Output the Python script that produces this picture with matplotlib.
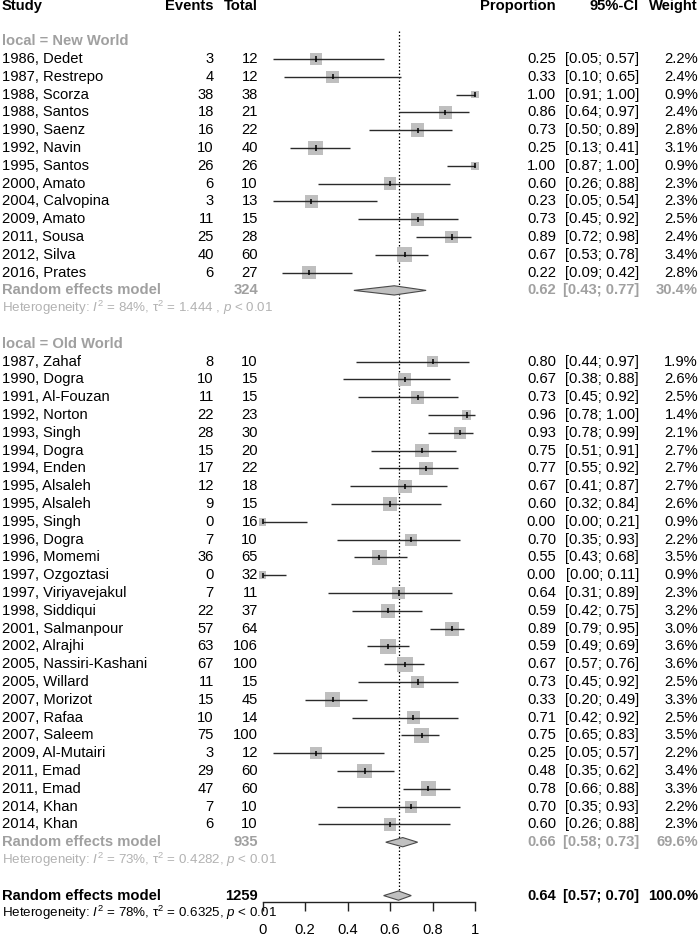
import matplotlib
matplotlib.use("Agg")
import matplotlib.pyplot as plt
from matplotlib.patches import Polygon
from matplotlib.transforms import blended_transform_factory

plt.rcParams['font.family'] = ['Liberation Sans', 'DejaVu Sans']
plt.rcParams['mathtext.fontset'] = 'custom'
plt.rcParams['mathtext.rm'] = 'Liberation Sans'
plt.rcParams['mathtext.it'] = 'Liberation Sans:italic'
plt.rcParams['mathtext.bf'] = 'Liberation Sans:bold'

# ---------------- data ----------------
nw_study = ["1986, Dedet", "1987, Restrepo", "1988, Scorza", "1988, Santos", "1990, Saenz",
            "1992, Navin", "1995, Santos", "2000, Amato", "2004, Calvopina", "2009, Amato",
            "2011, Sousa", "2012, Silva", "2016, Prates"]
nw_events = [3, 4, 38, 18, 16, 10, 26, 6, 3, 11, 25, 40, 6]
nw_total = [12, 12, 38, 21, 22, 40, 26, 10, 13, 15, 28, 60, 27]
nw_prop = [0.25, 0.33, 1.00, 0.86, 0.73, 0.25, 1.00, 0.60, 0.23, 0.73, 0.89, 0.67, 0.22]
nw_lo = [0.05, 0.10, 0.91, 0.64, 0.50, 0.13, 0.87, 0.26, 0.05, 0.45, 0.72, 0.53, 0.09]
nw_hi = [0.57, 0.65, 1.00, 0.97, 0.89, 0.41, 1.00, 0.88, 0.54, 0.92, 0.98, 0.78, 0.42]
nw_weight = [2.2, 2.4, 0.9, 2.4, 2.8, 3.1, 0.9, 2.3, 2.3, 2.5, 2.4, 3.4, 2.8]
nw_summary = dict(total=324, prop=0.62, lo=0.43, hi=0.77, weight=30.4)
nw_het = "Heterogeneity: $I^2$ = 84%, τ$^2$ = 1.444 , $p$ < 0.01"

ow_study = ["1987, Zahaf", "1990, Dogra", "1991, Al-Fouzan", "1992, Norton", "1993, Singh",
            "1994, Dogra", "1994, Enden", "1995, Alsaleh", "1995, Alsaleh", "1995, Singh",
            "1996, Dogra", "1996, Momemi", "1997, Ozgoztasi", "1997, Viriyavejakul",
            "1998, Siddiqui", "2001, Salmanpour", "2002, Alrajhi", "2005, Nassiri-Kashani",
            "2005, Willard", "2007, Morizot", "2007, Rafaa", "2007, Saleem", "2009, Al-Mutairi",
            "2011, Emad", "2011, Emad", "2014, Khan", "2014, Khan"]
ow_events = [8, 10, 11, 22, 28, 15, 17, 12, 9, 0, 7, 36, 0, 7, 22, 57, 63, 67, 11, 15, 10, 75,
             3, 29, 47, 7, 6]
ow_total = [10, 15, 15, 23, 30, 20, 22, 18, 15, 16, 10, 65, 32, 11, 37, 64, 106, 100, 15, 45,
            14, 100, 12, 60, 60, 10, 10]
ow_prop = [0.80, 0.67, 0.73, 0.96, 0.93, 0.75, 0.77, 0.67, 0.60, 0.00, 0.70, 0.55, 0.00, 0.64,
           0.59, 0.89, 0.59, 0.67, 0.73, 0.33, 0.71, 0.75, 0.25, 0.48, 0.78, 0.70, 0.60]
ow_lo = [0.44, 0.38, 0.45, 0.78, 0.78, 0.51, 0.55, 0.41, 0.32, 0.00, 0.35, 0.43, 0.00, 0.31,
         0.42, 0.79, 0.49, 0.57, 0.45, 0.20, 0.42, 0.65, 0.05, 0.35, 0.66, 0.35, 0.26]
ow_hi = [0.97, 0.88, 0.92, 1.00, 0.99, 0.91, 0.92, 0.87, 0.84, 0.21, 0.93, 0.68, 0.11, 0.89,
         0.75, 0.95, 0.69, 0.76, 0.92, 0.49, 0.92, 0.83, 0.57, 0.62, 0.88, 0.93, 0.88]
ow_weight = [1.9, 2.6, 2.5, 1.4, 2.1, 2.7, 2.7, 2.7, 2.6, 0.9, 2.2, 3.5, 0.9, 2.3, 3.2, 3.0,
             3.6, 3.6, 2.5, 3.3, 2.5, 3.5, 2.2, 3.4, 3.3, 2.2, 2.3]
ow_summary = dict(total=935, prop=0.66, lo=0.58, hi=0.73, weight=69.6)
ow_het = "Heterogeneity: $I^2$ = 73%, τ$^2$ = 0.4282, $p$ < 0.01"

overall = dict(total=1259, prop=0.64, lo=0.57, hi=0.70, weight=100.0)
overall_het = "Heterogeneity: $I^2$ = 78%, τ$^2$ = 0.6325, $p$ < 0.01"

headers = ["Study", "Events", "Total", "Proportion", "95%-CI", "Weight"]
xticks = [0, 0.2, 0.4, 0.6, 0.8, 1]
xticklabels = ["0", "0.2", "0.4", "0.6", "0.8", "1"]

# ---------------- layout ----------------
W, H = 700, 936
ROW_PX = 17.8
TOP_PX = 5.6
X0_PX, X1_PX = 262.5, 475.0
FS = 10.6
FS_HET = 9.6
GRAY = '#a0a0a0'
GRAY_HET = '#b2b2b2'

fig = plt.figure(figsize=(W / 100, H / 100), dpi=100)
ax = fig.add_axes([X0_PX / W, 0, (X1_PX - X0_PX) / W, 1])
ax.set_xlim(0, 1)
ax.set_ylim((H - TOP_PX) / ROW_PX, -TOP_PX / ROW_PX)
ax.axis('off')
tr = blended_transform_factory(fig.transFigure, ax.transData)

col_study = 2 / W
col_events = 214 / W
col_total = 258 / W
col_prop = 556 / W
col_ci = 639 / W
col_weight = 698 / W


def txt(x, r, s, ha='left', color='black', bold=False, size=FS):
    ax.text(x, r, s, transform=tr, ha=ha, va='center', fontsize=size, color=color,
            fontweight='bold' if bold else 'normal', clip_on=False)


# header
txt(col_study, 0, headers[0], bold=True)
txt(col_events, 0, headers[1], ha='right', bold=True)
txt(col_total, 0, headers[2], ha='right', bold=True)
txt(col_prop, 0, headers[3], ha='right', bold=True)
txt(col_ci, 0, headers[4], ha='right', bold=True)
txt(col_weight, 0, headers[5], ha='right', bold=True)

SIDE_K = 8.1  # px per sqrt(weight %)


def draw_group(label, r_label, study, events, total, prop, lo, hi, weight, summ, het):
    txt(col_study, r_label, label, color=GRAY, bold=True)
    rows = [r_label + 1 + i for i in range(len(study))]
    for r, s, e, t, p, l, h, w in zip(rows, study, events, total, prop, lo, hi, weight):
        txt(col_study, r, s)
        txt(col_events, r, str(e), ha='right')
        txt(col_total, r, str(t), ha='right')
        txt(col_prop, r, f"{p:.2f}", ha='right')
        txt(col_ci, r, f"[{l:.2f}; {h:.2f}]", ha='right')
        txt(col_weight, r, f"{w:.1f}%", ha='right')
    sizes = [(SIDE_K * (w ** 0.5) * 72 / 100) ** 2 for w in weight]
    ax.scatter(prop, rows, s=sizes, marker='s', color='#bfbfbf', edgecolors='none',
               zorder=2, clip_on=False)
    ax.hlines(rows, lo, hi, color='#2a2a2a', lw=1.0, zorder=3, clip_on=False)
    ax.vlines(prop, [r - 0.15 for r in rows], [r + 0.15 for r in rows], color='black',
              lw=1.1, zorder=4, clip_on=False)
    r_sum = rows[-1] + 1
    draw_summary(r_sum, summ, GRAY)
    txt(col_study, r_sum + 1, het, color=GRAY_HET, size=FS_HET)
    return r_sum


def draw_summary(r, summ, color):
    txt(col_study, r, "Random effects model", color=color, bold=True)
    txt(col_total, r, str(summ['total']), ha='right', color=color, bold=True)
    txt(col_prop, r, f"{summ['prop']:.2f}", ha='right', color=color, bold=True)
    txt(col_ci, r, f"[{summ['lo']:.2f}; {summ['hi']:.2f}]", ha='right', color=color, bold=True)
    txt(col_weight, r, f"{summ['weight']:.1f}%", ha='right', color=color, bold=True)
    hh = 0.26
    poly = Polygon([(summ['lo'], r), (summ['prop'], r - hh), (summ['hi'], r),
                    (summ['prop'], r + hh)], closed=True, facecolor='#c0c0c0',
                   edgecolor='#4a4a4a', lw=0.8, zorder=3, clip_on=False)
    ax.add_patch(poly)


r1 = draw_group("local = New World", 2, nw_study, nw_events, nw_total, nw_prop, nw_lo, nw_hi,
                nw_weight, nw_summary, nw_het)
r2 = draw_group("local = Old World", r1 + 3, ow_study, ow_events, ow_total, ow_prop, ow_lo,
                ow_hi, ow_weight, ow_summary, ow_het)
r_over = r2 + 3
txt(col_study, r_over, "Random effects model", bold=True)
txt(col_total, r_over, str(overall['total']), ha='right', bold=True)
txt(col_prop, r_over, f"{overall['prop']:.2f}", ha='right', bold=True)
txt(col_ci, r_over, f"[{overall['lo']:.2f}; {overall['hi']:.2f}]", ha='right', bold=True)
txt(col_weight, r_over, f"{overall['weight']:.1f}%", ha='right', bold=True)
hh = 0.26
ax.add_patch(Polygon([(overall['lo'], r_over), (overall['prop'], r_over - hh),
                      (overall['hi'], r_over), (overall['prop'], r_over + hh)], closed=True,
                     facecolor='#c0c0c0', edgecolor='#4a4a4a', lw=0.8, zorder=3,
                     clip_on=False))
txt(col_study, r_over + 1, overall_het, size=FS_HET)

# dotted reference line at the overall estimate
ax.vlines(overall['prop'], 1.45, r_over - hh, color='black', lw=0.9,
          linestyles=(0, (1.2, 1.6)), zorder=1)

# x axis
axis_y_px = 901.7
axx = fig.add_axes([X0_PX / W, (H - axis_y_px) / H, (X1_PX - X0_PX) / W, 0.0001])
axx.set_xlim(0, 1)
axx.set_yticks([])
for sp in ['left', 'right', 'top']:
    axx.spines[sp].set_visible(False)
axx.spines['bottom'].set_linewidth(1.0)
axx.spines['bottom'].set_color('#222222')
axx.set_xticks(xticks)
axx.set_xticklabels(xticklabels)
axx.tick_params(axis='x', direction='out', length=6.5, width=1.0, colors='#222222',
                labelsize=FS, pad=8.5, labelcolor='black')
axx.patch.set_visible(False)

fig.savefig("out.png", dpi=100)
